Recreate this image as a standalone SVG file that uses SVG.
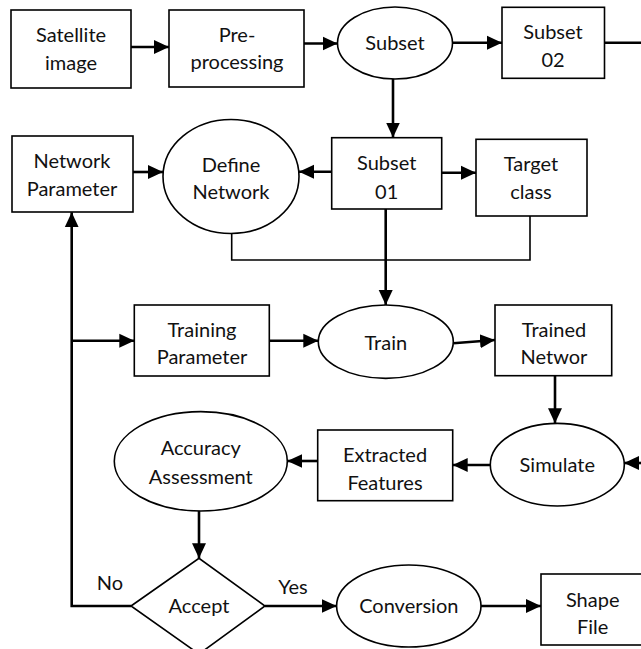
<svg xmlns="http://www.w3.org/2000/svg" width="641" height="649" viewBox="0 0 641 649">
<style>
.n rect,.n ellipse,.n polygon{fill:#fff;stroke:#000;stroke-width:1.6}
text{font-family:Lato,"Liberation Sans",sans-serif;font-size:20px;fill:#111;text-anchor:middle}
.c path{fill:none;stroke:#000;stroke-width:2.6}
.c path.a{marker-end:url(#ah)}
.c path.thin{stroke-width:1.6}
</style>
<defs>
<marker id="ah" markerUnits="userSpaceOnUse" markerWidth="16" markerHeight="16" viewBox="0 0 16 16" refX="15" refY="8" orient="auto">
<path d="M0 1 L15 8 L0 15 Z" fill="#000"/>
</marker>
</defs>
<rect width="641" height="649" fill="#fff"/>
<g class="c" id="connectors">
<path class="a" d="M131 47 H169"/>
<path class="a" d="M304 43.5 H337.5"/>
<path class="a" d="M452.5 42.7 H502"/>
<path d="M604 42.7 H641"/>
<path class="a" d="M393 79 V137.5"/>
<path class="a" d="M331.7 171.7 H299"/>
<path class="a" d="M441.7 172.7 H476"/>
<path class="a" d="M133 172 H163"/>
<path class="a" d="M385.7 209 V305"/>
<path class="thin" d="M231.7 233 V260 H530 V216"/>
<path class="a" d="M269.3 340.7 H318.3"/>
<path class="a" d="M453.3 343.3 L495 340"/>
<path class="a" d="M555 375.7 V423.3"/>
<path class="a" d="M645 463 H624"/>
<path class="a" d="M490.3 465 H452.7"/>
<path class="a" d="M317.7 461 H287.3"/>
<path class="a" d="M199 511 V558.3"/>
<path class="a" d="M265 606 H336.7"/>
<path class="a" d="M481 606 H541"/>
<path class="a" d="M131 606 H71.7 V212.3"/>
<path class="a" d="M71.7 340.7 H134.3"/>
</g>
<g class="n" id="satellite"><rect x="11" y="10" width="120" height="78"/><text x="71" y="42">Satellite</text><text x="71" y="70">image</text></g>
<g class="n" id="preprocessing"><rect x="169" y="10" width="135" height="77"/><text x="237" y="42">Pre-</text><text x="237" y="69">processing</text></g>
<g class="n" id="subset"><ellipse cx="395" cy="43" rx="57.5" ry="36"/><text x="395" y="50">Subset</text></g>
<g class="n" id="subset02"><rect x="502" y="7.3" width="102.5" height="71"/><text x="553" y="39">Subset</text><text x="553" y="67">02</text></g>
<g class="n" id="networkparam"><rect x="12" y="136" width="121" height="76"/><text x="72" y="168">Network</text><text x="72" y="196">Parameter</text></g>
<g class="n" id="define"><ellipse cx="231" cy="176.5" rx="68" ry="57"/><text x="231" y="172">Define</text><text x="231" y="199">Network</text></g>
<g class="n" id="subset01"><rect x="331.7" y="137.7" width="110" height="71.3"/><text x="386.7" y="170">Subset</text><text x="386.7" y="199">01</text></g>
<g class="n" id="target"><rect x="476" y="139.3" width="111" height="76.7"/><text x="531" y="171">Target</text><text x="531" y="199">class</text></g>
<g class="n" id="trainingparam"><rect x="134.3" y="305" width="135" height="71"/><text x="202" y="337">Training</text><text x="202" y="364">Parameter</text></g>
<g class="n" id="train"><ellipse cx="385.8" cy="341.7" rx="67.5" ry="36.7"/><text x="385.8" y="350">Train</text></g>
<g class="n" id="trained"><rect x="495" y="305" width="116.7" height="70.7"/><text x="554" y="337">Trained</text><text x="554" y="364">Networ</text></g>
<g class="n" id="accuracy"><ellipse cx="200.8" cy="461.3" rx="86.5" ry="49.7"/><text x="200.8" y="455">Accuracy</text><text x="200.8" y="484">Assessment</text></g>
<g class="n" id="extracted"><rect x="317.7" y="430" width="135" height="70.7"/><text x="385" y="462">Extracted</text><text x="385" y="490">Features</text></g>
<g class="n" id="simulate"><ellipse cx="557.3" cy="464.7" rx="67" ry="41.3"/><text x="557.3" y="472">Simulate</text></g>
<g class="n" id="accept"><polygon points="131,606 199,558.3 265,606 199,654"/><text x="199" y="613">Accept</text></g>
<g class="n" id="conversion"><ellipse cx="408.8" cy="606" rx="72.2" ry="41"/><text x="408.8" y="613">Conversion</text></g>
<g class="n" id="shapefile"><rect x="541" y="574" width="110" height="71"/><text x="592.7" y="607">Shape</text><text x="592.7" y="634">File</text></g>
<g id="labels"><text x="110" y="590">No</text><text x="293" y="593.5">Yes</text></g>
</svg>
